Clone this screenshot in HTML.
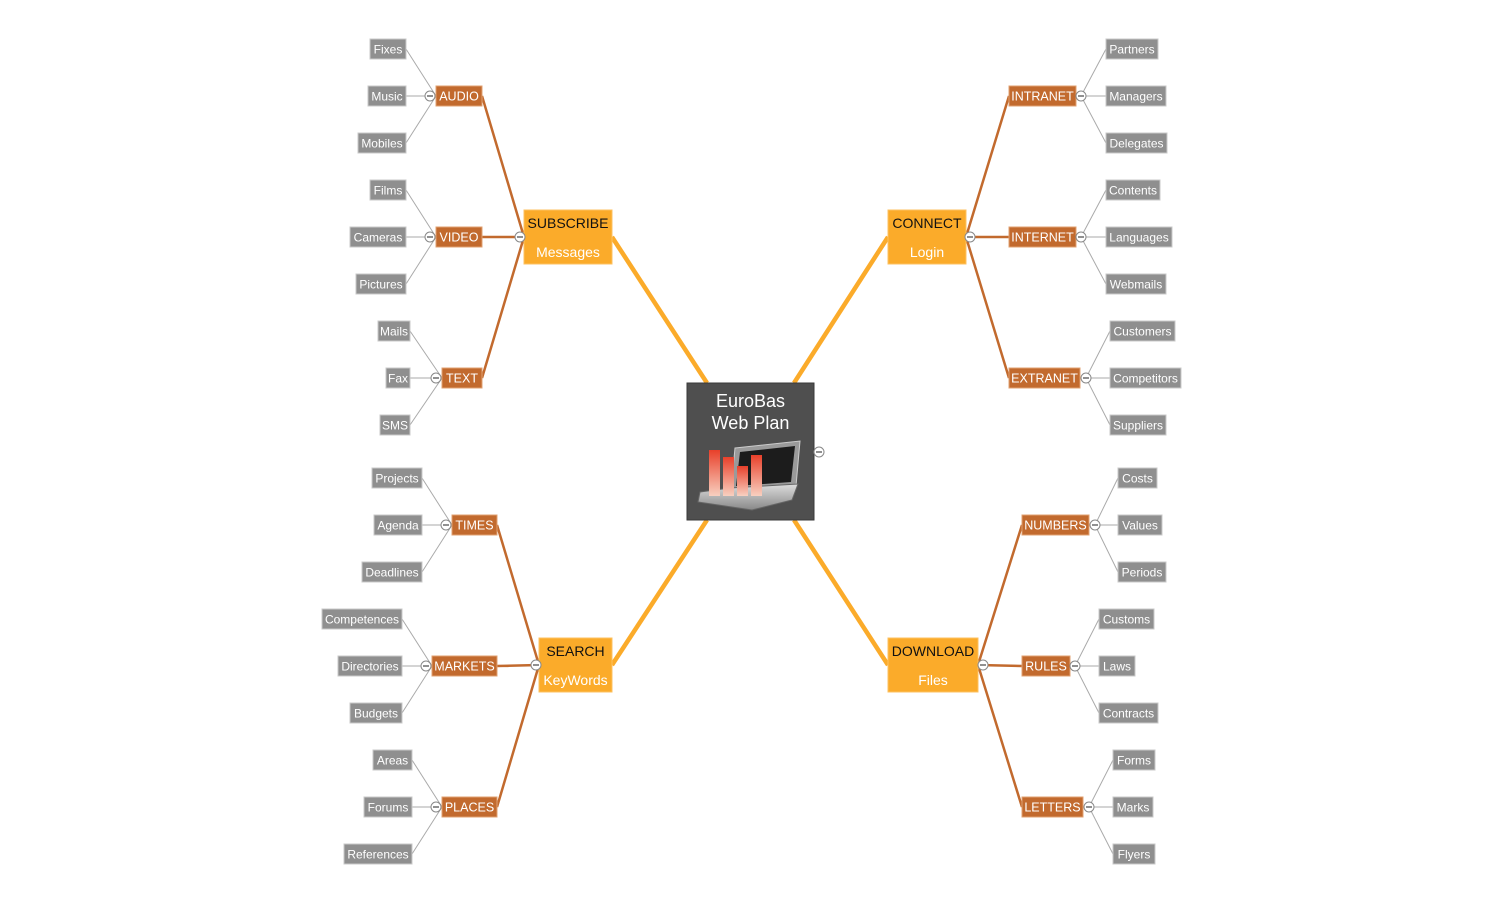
<!DOCTYPE html>
<html><head><meta charset="utf-8"><style>
html,body{margin:0;padding:0;background:#fff}
svg{display:block}
text{font-family:"Liberation Sans",Arial,sans-serif}
.l rect{fill:#8f8f8f;stroke:#c8c8c8;stroke-width:1}
.l text{fill:#fff;font-size:12px;text-anchor:middle}
.c rect{fill:#c26a2e;stroke:#e0a070;stroke-width:1}
.c text{fill:#fff;font-size:12.5px;text-anchor:middle}
.t{stroke:#aaa;stroke-width:1;fill:none}
.b{stroke:#c26a2e;stroke-width:2.5;fill:none}
.o{stroke:#fbab2a;stroke-width:4.5;fill:none}
.k circle{fill:#fff;stroke:#888;stroke-width:1}
.k line{stroke:#555;stroke-width:1.3}
</style></head><body>
<svg width="1500" height="905" viewBox="0 0 1500 905">
<!-- main connectors -->
<path class="o" d="M612 237 L707 383 M888 237 L794 383 M612 665 L707 520 M888 665 L794 520"/>
<!-- branch connectors -->
<path class="b" d="M482 96 L524 237 M482 237 L524 237 M482 378 L524 237
M497 525 L539 665 M497 666 L539 665 M497 807 L539 665
M966 237 L1009 96 M966 237 L1009 237 M966 237 L1009 378
M978 665 L1022 525 M978 665 L1022 666 M978 665 L1022 807"/>
<!-- leaf connectors -->
<path class="t" d="M406 49 L436 96 M406 96 L436 96 M406 143 L436 96
M406 190 L436 237 M406 237 L436 237 M406 284 L436 237
M410 331 L442 378 M410 378 L442 378 M410 425 L442 378
M422 478 L452 525 M422 525 L452 525 M422 572 L452 525
M402 619 L432 666 M402 666 L432 666 M402 713 L432 666
M412 760 L442 807 M412 807 L442 807 M412 854 L442 807
M1081 96 L1106 49 M1081 96 L1106 96 M1081 96 L1106 143
M1081 237 L1106 190 M1081 237 L1106 237 M1081 237 L1106 284
M1086 378 L1110 331 M1086 378 L1110 378 M1086 378 L1110 425
M1095 525 L1118 478 M1095 525 L1118 525 M1095 525 L1118 572
M1075 666 L1099 619 M1075 666 L1099 666 M1075 666 L1099 713
M1089 807 L1113 760 M1089 807 L1113 807 M1089 807 L1113 854"/>
<!-- leaves -->
<g class="l">
<rect x="370" y="39" width="36" height="20"/><text x="388" y="53.5">Fixes</text>
<rect x="368" y="86" width="38" height="20"/><text x="387" y="100.5">Music</text>
<rect x="358" y="133" width="48" height="20"/><text x="382" y="147.5">Mobiles</text>
<rect x="370" y="180" width="36" height="20"/><text x="388" y="194.5">Films</text>
<rect x="350" y="227" width="56" height="20"/><text x="378" y="241.5">Cameras</text>
<rect x="356" y="274" width="50" height="20"/><text x="381" y="288.5">Pictures</text>
<rect x="378" y="321" width="32" height="20"/><text x="394" y="335.5">Mails</text>
<rect x="386" y="368" width="24" height="20"/><text x="398" y="382.5">Fax</text>
<rect x="380" y="415" width="30" height="20"/><text x="395" y="429.5">SMS</text>
<rect x="372" y="468" width="50" height="20"/><text x="397" y="482.5">Projects</text>
<rect x="374" y="515" width="48" height="20"/><text x="398" y="529.5">Agenda</text>
<rect x="362" y="562" width="60" height="20"/><text x="392" y="576.5">Deadlines</text>
<rect x="322" y="609" width="80" height="20"/><text x="362" y="623.5">Competences</text>
<rect x="338" y="656" width="64" height="20"/><text x="370" y="670.5">Directories</text>
<rect x="350" y="703" width="52" height="20"/><text x="376" y="717.5">Budgets</text>
<rect x="373" y="750" width="39" height="20"/><text x="392.5" y="764.5">Areas</text>
<rect x="364" y="797" width="48" height="20"/><text x="388" y="811.5">Forums</text>
<rect x="344" y="844" width="68" height="20"/><text x="378" y="858.5">References</text>

<rect x="1106" y="39" width="52" height="20"/><text x="1132" y="53.5">Partners</text>
<rect x="1106" y="86" width="60" height="20"/><text x="1136" y="100.5">Managers</text>
<rect x="1106" y="133" width="61" height="20"/><text x="1136.5" y="147.5">Delegates</text>
<rect x="1106" y="180" width="54" height="20"/><text x="1133" y="194.5">Contents</text>
<rect x="1106" y="227" width="66" height="20"/><text x="1139" y="241.5">Languages</text>
<rect x="1106" y="274" width="60" height="20"/><text x="1136" y="288.5">Webmails</text>
<rect x="1110" y="321" width="65" height="20"/><text x="1142.5" y="335.5">Customers</text>
<rect x="1110" y="368" width="71" height="20"/><text x="1145.5" y="382.5">Competitors</text>
<rect x="1110" y="415" width="56" height="20"/><text x="1138" y="429.5">Suppliers</text>
<rect x="1118" y="468" width="39" height="20"/><text x="1137.5" y="482.5">Costs</text>
<rect x="1118" y="515" width="44" height="20"/><text x="1140" y="529.5">Values</text>
<rect x="1118" y="562" width="48" height="20"/><text x="1142" y="576.5">Periods</text>
<rect x="1099" y="609" width="55" height="20"/><text x="1126.5" y="623.5">Customs</text>
<rect x="1099" y="656" width="36" height="20"/><text x="1117" y="670.5">Laws</text>
<rect x="1099" y="703" width="59" height="20"/><text x="1128.5" y="717.5">Contracts</text>
<rect x="1113" y="750" width="42" height="20"/><text x="1134" y="764.5">Forms</text>
<rect x="1113" y="797" width="40" height="20"/><text x="1133" y="811.5">Marks</text>
<rect x="1113" y="844" width="42" height="20"/><text x="1134" y="858.5">Flyers</text>
</g>
<!-- categories -->
<g class="c">
<rect x="436" y="86" width="46" height="20"/><text x="459" y="100.5">AUDIO</text>
<rect x="436" y="227" width="46" height="20"/><text x="459" y="241.5">VIDEO</text>
<rect x="442" y="368" width="40" height="20"/><text x="462" y="382.5">TEXT</text>
<rect x="452" y="515" width="45" height="20"/><text x="474.5" y="529.5">TIMES</text>
<rect x="432" y="656" width="65" height="20"/><text x="464.5" y="670.5">MARKETS</text>
<rect x="442" y="797" width="55" height="20"/><text x="469.5" y="811.5">PLACES</text>
<rect x="1009" y="86" width="67" height="20"/><text x="1042.5" y="100.5">INTRANET</text>
<rect x="1009" y="227" width="67" height="20"/><text x="1042.5" y="241.5">INTERNET</text>
<rect x="1009" y="368" width="71" height="20"/><text x="1044.5" y="382.5">EXTRANET</text>
<rect x="1022" y="515" width="67" height="20"/><text x="1055.5" y="529.5">NUMBERS</text>
<rect x="1022" y="656" width="48" height="20"/><text x="1046" y="670.5">RULES</text>
<rect x="1022" y="797" width="61" height="20"/><text x="1052.5" y="811.5">LETTERS</text>
</g>
<!-- main topics -->
<g fill="#fbab2a" stroke="#fcc060">
<rect x="524" y="210" width="88" height="54"/>
<rect x="539" y="638" width="73" height="54"/>
<rect x="888" y="210" width="78" height="54"/>
<rect x="888" y="638" width="90" height="54"/>
</g>
<g font-size="14" text-anchor="middle">
<text x="568" y="228" fill="#111">SUBSCRIBE</text><text x="568" y="257" fill="#fff">Messages</text>
<text x="575.5" y="656" fill="#111">SEARCH</text><text x="575.5" y="685" fill="#fff">KeyWords</text>
<text x="927" y="228" fill="#111">CONNECT</text><text x="927" y="257" fill="#fff">Login</text>
<text x="933" y="656" fill="#111">DOWNLOAD</text><text x="933" y="685" fill="#fff">Files</text>
</g>
<!-- center -->
<rect x="687" y="383" width="127" height="137" fill="#4f4f4f" stroke="#3a3a3a"/>
<text x="750.5" y="407" fill="#fff" font-size="18" text-anchor="middle">EuroBas</text>
<text x="750.5" y="429" fill="#fff" font-size="18" text-anchor="middle">Web Plan</text>
<defs><linearGradient id="rb" x1="0" y1="0" x2="0" y2="1"><stop offset="0" stop-color="#e8402a"/><stop offset="1" stop-color="#f8d0c0"/></linearGradient>
<linearGradient id="lp" x1="0" y1="0" x2="0" y2="1"><stop offset="0" stop-color="#ddd"/><stop offset="1" stop-color="#888"/></linearGradient></defs>
<path d="M735 448 L800 441 L796 486 L731 490 Z" fill="#9a9a9a" stroke="#ccc"/>
<path d="M740 452 L795 446 L791 482 L736 486 Z" fill="#1c1c1c"/>
<path d="M700 492 L730 488 L798 484 L792 500 L752 510 L698 502 Z" fill="url(#lp)" stroke="#666"/>
<rect x="709" y="450" width="11" height="46" fill="url(#rb)"/>
<rect x="723" y="457" width="11" height="39" fill="url(#rb)"/>
<rect x="737" y="466" width="11" height="30" fill="url(#rb)"/>
<rect x="751" y="455" width="11" height="41" fill="url(#rb)"/>
<!-- collapse buttons -->
<g class="k">
<circle cx="819" cy="452" r="5"/><line x1="816" y1="452" x2="822" y2="452"/>
<circle cx="520" cy="237" r="5"/><line x1="517" y1="237" x2="523" y2="237"/>
<circle cx="536" cy="665" r="5"/><line x1="533" y1="665" x2="539" y2="665"/>
<circle cx="970" cy="237" r="5"/><line x1="967" y1="237" x2="973" y2="237"/>
<circle cx="983" cy="665" r="5"/><line x1="980" y1="665" x2="986" y2="665"/>
<circle cx="430" cy="96" r="5"/><line x1="427" y1="96" x2="433" y2="96"/>
<circle cx="430" cy="237" r="5"/><line x1="427" y1="237" x2="433" y2="237"/>
<circle cx="436" cy="378" r="5"/><line x1="433" y1="378" x2="439" y2="378"/>
<circle cx="446" cy="525" r="5"/><line x1="443" y1="525" x2="449" y2="525"/>
<circle cx="426" cy="666" r="5"/><line x1="423" y1="666" x2="429" y2="666"/>
<circle cx="436" cy="807" r="5"/><line x1="433" y1="807" x2="439" y2="807"/>
<circle cx="1081" cy="96" r="5"/><line x1="1078" y1="96" x2="1084" y2="96"/>
<circle cx="1081" cy="237" r="5"/><line x1="1078" y1="237" x2="1084" y2="237"/>
<circle cx="1086" cy="378" r="5"/><line x1="1083" y1="378" x2="1089" y2="378"/>
<circle cx="1095" cy="525" r="5"/><line x1="1092" y1="525" x2="1098" y2="525"/>
<circle cx="1075" cy="666" r="5"/><line x1="1072" y1="666" x2="1078" y2="666"/>
<circle cx="1089" cy="807" r="5"/><line x1="1086" y1="807" x2="1092" y2="807"/>
</g>
</svg>
</body></html>
